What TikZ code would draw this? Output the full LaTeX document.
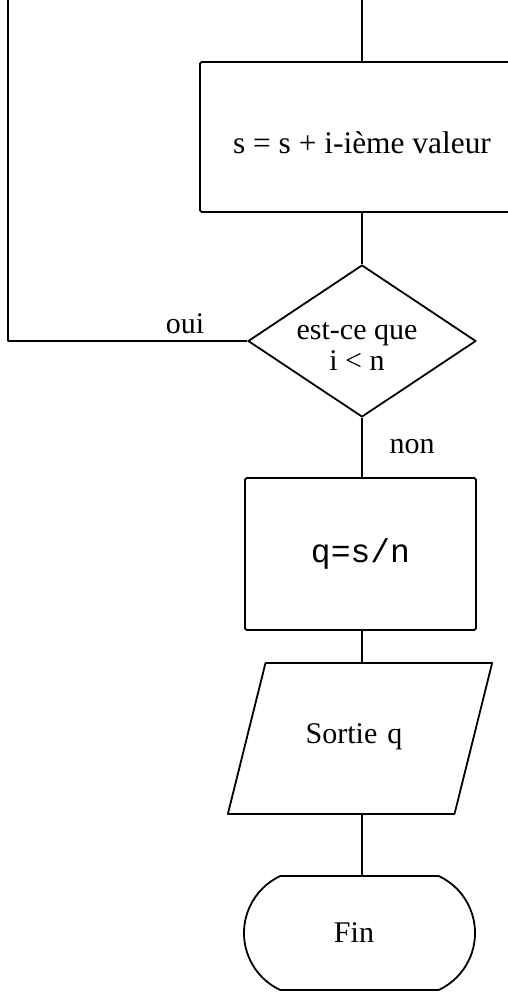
\documentclass[tikz,border=0pt]{standalone}
\usepackage{fontspec}
\setmainfont{Liberation Serif}
\setmonofont{Liberation Mono}
\usetikzlibrary{shapes.geometric,shapes.misc}
\newcommand{\lowertext}[2]{\raisebox{-#1}[\height][\depth]{#2}}
\begin{document}
\begin{tikzpicture}[x=0.5pt,y=-0.5pt,
  line width=0.9pt, line join=round,
  every node/.style={font=\fontsize{15}{15.5}\selectfont, inner sep=0pt},
  proc/.style={draw, rectangle, minimum width=#1, minimum height=76pt, rounded corners=0.8pt},
  decision/.style={draw, diamond, aspect=1.5, minimum width=114pt, minimum height=76pt},
  io/.style={draw, trapezium, trapezium left angle=76, trapezium right angle=104,
     text width=94.5pt, text height=40pt, text depth=35.5pt, align=center},
  term/.style={draw, rounded rectangle, rounded rectangle arc length=130, minimum width=115.5pt, minimum height=57pt},
  lbl/.style={anchor=base}]
\clip (0,0) rectangle (508,992);
\coordinate (top) at (362,0);
\coordinate (lp) at (8,0);
\node[proc=162pt, minimum height=75pt, font=\fontsize{15.7}{16}\selectfont] (add) at (362,137) {\lowertext{3pt}{s = s + i-ième valeur}};
\node[decision] (dec) at (362,341) {\lowertext{4pt}{\begin{tabular}{@{}c@{}}est-ce que\\ i < n\end{tabular}}\kern5pt};
\node[proc=115.5pt, font=\fontsize{16.5}{17}\selectfont\ttfamily] (calc) at (360.5,554) {q=s/n};
\node[io] (out) at (360,738.5) {Sortie q\kern6pt};
\node[term] (fin) at (359.5,933) {Fin\kern5.5pt};
\node[lbl] (oui) at (185,333) {oui};
\node[lbl] (non) at (412,453) {non};
\draw (top) -- (add.north);
\draw (add.south) -- (dec.north);
\draw (dec.west) -| (lp);
\draw (dec.south) -- (dec.south |- calc.north);
\draw (calc.south -| dec.south) -- (dec.south |- out.north);
\draw (out.south -| dec.south) -- (dec.south |- fin.north);
\end{tikzpicture}
\end{document}
